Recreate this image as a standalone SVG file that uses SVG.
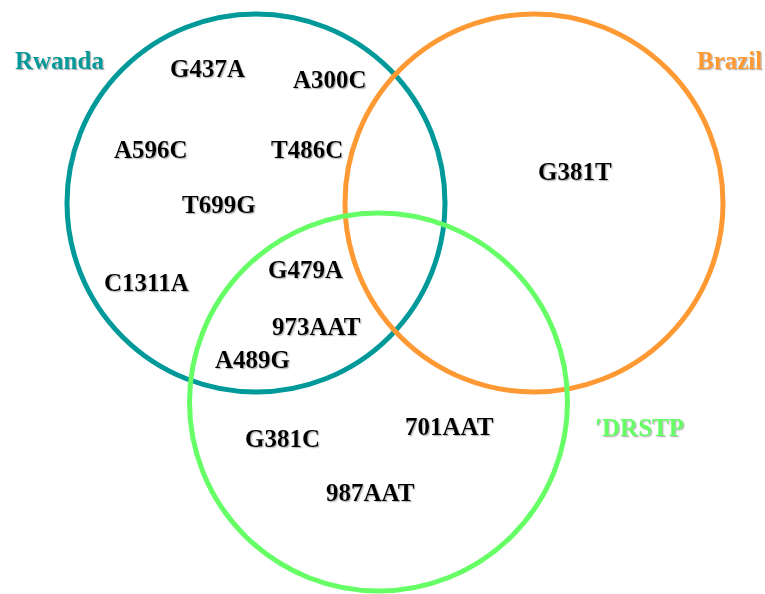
<svg xmlns="http://www.w3.org/2000/svg" width="765" height="594" viewBox="0 0 765 594">
<defs>
<filter id="sh" x="-10%" y="-20%" width="130%" height="150%">
<feDropShadow dx="1.2" dy="1.2" stdDeviation="0.6" flood-color="#888" flood-opacity="0.6"/>
</filter>
<style>
text{font-family:"Liberation Serif","Times New Roman",serif;font-weight:bold;font-size:25px;filter:url(#sh)}
.m{fill:#000}
.ring{fill:none;stroke-width:5}
</style>
</defs>
<rect width="765" height="594" fill="#fff"/>
<g id="connectors"></g>
<g id="rwanda">
<circle class="ring" cx="256" cy="203" r="189" stroke="#009999"/>
<text x="15" y="69" fill="#009999">Rwanda</text>
</g>
<g id="brazil">
<circle class="ring" cx="534" cy="203" r="189" stroke="#FF9933"/>
<text x="697" y="69" fill="#FF9933">Brazil</text>
</g>
<g id="drstp">
<circle class="ring" cx="378.5" cy="402" r="189" stroke="#66FF66"/>
<text x="595" y="436" fill="#66FF66">′DRSTP</text>
</g>
<g id="mutations">
<text class="m" x="170" y="77">G437A</text>
<text class="m" x="293" y="88">A300C</text>
<text class="m" x="114" y="158">A596C</text>
<text class="m" x="271" y="158">T486C</text>
<text class="m" x="182" y="213">T699G</text>
<text class="m" x="104" y="291">C1311A</text>
<text class="m" x="268" y="278">G479A</text>
<text class="m" x="272" y="335">973AAT</text>
<text class="m" x="215" y="368">A489G</text>
<text class="m" x="538" y="180">G381T</text>
<text class="m" x="245" y="447">G381C</text>
<text class="m" x="405" y="435">701AAT</text>
<text class="m" x="326" y="501">987AAT</text>
</g>
</svg>
